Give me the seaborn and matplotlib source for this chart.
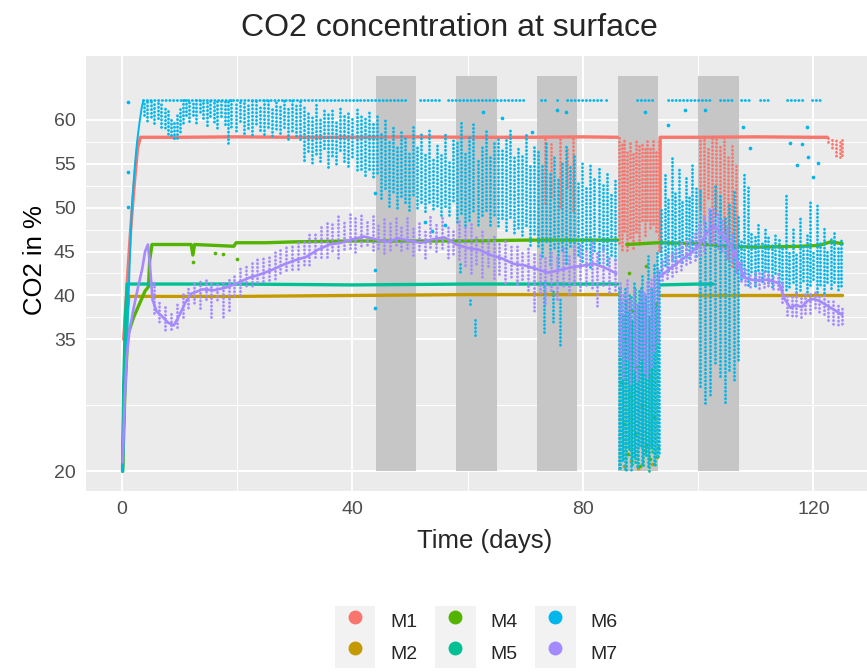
import numpy as np
import pandas as pd
import matplotlib
matplotlib.use("Agg")
import matplotlib.pyplot as plt
import seaborn as sns
from matplotlib.patches import Patch
from matplotlib.lines import Line2D
from matplotlib.legend_handler import HandlerTuple

nan = float("nan")

series = ["M1", "M2", "M4", "M5", "M6", "M7"]
colours = ["#F8766D", "#C49A00", "#53B400", "#00C094", "#00B6EB", "#A58AFF"]

# shaded periods (days)
shade_start = [44, 58, 72, 86, 100]
shade_end = [51, 65, 79, 93, 107]
shade_low, shade_high = 20, 65

# dense line-like part of each logger, nan = gap
m1_trace_t = [0.3, 0.9, 1.5, 2.1, 2.7, 3.2, 10, 20, 30, 40, 50, 60, 70, 80, 86.0, nan,
              93.4, 93.4, 100, 110, 120, 122.4]
m1_trace_y = [35.0, 41.5, 47.5, 52.5, 56.8, 58.0, 58.0, 58.05, 58.0, 58.0, 58.05, 58.0, 58.0, 58.05, 58.0, nan,
              45.0, 58.0, 58.0, 58.05, 58.0, 58.0]
m2_trace_t = [0.1, 0.4, 0.8, 1.2, 10, 20, 40, 60, 86, nan, 93.4, 110, 125]
m2_trace_y = [20.5, 30, 37.5, 39.9, 39.9, 39.9, 40.0, 40.1, 40.1, nan, 40.0, 40.0, 40.0]
m4_trace_t = [0.1, 0.5, 1.0, 2.0, 3.0, 4.0, 4.6, 4.8, 5.2, 8, 12.0, 12.3, 12.6, 16, 19.4, 19.8, 25, 30, 40,
              50, 60, 70, 80, 86.0, nan, 87.6, 93, 100, 105, 110, 118, 121, 123, 125]
m4_trace_y = [20, 29, 35.5, 37.5, 39, 40.5, 41, 44, 45.8, 45.8, 45.8, 44.6, 45.8, 45.7, 45.6, 46.0, 46.0, 46.1, 46.2,
              46.2, 46.2, 46.3, 46.3, 46.3, nan, 45.8, 46.0, 45.9, 45.6, 45.5, 45.6, 45.7, 46.1, 45.9]
m5_trace_t = [0.1, 0.3, 0.6, 0.9, 10, 20, 40, 60, 80, 86, nan, 93.4, 100, 102.6]
m5_trace_y = [20, 30, 37.5, 41.3, 41.3, 41.3, 41.2, 41.3, 41.3, 41.3, nan, 41.2, 41.3, 41.3]
m6_trace_t = [0.1, 0.5, 0.9, 1.3, 1.7, 2.2, 2.6, 3.0, 3.4, 3.7]
m6_trace_y = [20, 28, 35, 43, 50, 54.5, 57.4, 59.5, 61.3, 62.2]
m7_trace_t = [0.1, 0.4, 0.8, 1.3, 2.0, 2.8, 3.5, 4.0, 4.5, 4.9, 5.3, 6.0, 7.0, 8.0, 9.0, 10.0, 11.0, 12.0,
              14.0, 16.0, 18.0, 20.0, 22.0, 24.0, 26.0, 28.0, 30.0, 32.0, 34.0, 36.0, 38.0, 40.0, 42.0, 44.0,
              46.0, 48.0, 50.0, 52.0, 54.0, 56.0, 58.0, 60.0, 62.0, 64.0, 66.0, 68.0, 70.0, 72.0, 74.0, 76.0,
              78.0, 80.0, 82.0, 84.0, 85.8, nan, 93.5, 95, 97, 99, 100.5, 102, 103, 104, 105, 106, 107, 108,
              110, 112, 114, 115, 116, 117, 118, 119, 120, 121, 122, 123, 124, 125]
m7_trace_y = [21, 27, 33, 36, 38.5, 41, 43, 45, 45.8, 43, 39.5, 38.2, 37.6, 36.9, 36.6, 37.8, 39.2, 40.2,
              40.7, 40.6, 40.9, 41.4, 42.0, 42.4, 42.9, 43.5, 44.0, 44.4, 45.2, 45.8, 46.0, 46.4, 46.7, 46.4,
              46.1, 46.5, 46.2, 46.0, 46.4, 46.6, 45.8, 45.4, 45.2, 44.6, 44.2, 43.6, 43.4, 43.0, 42.6, 42.9,
              43.2, 43.4, 43.6, 43.1, 42.5, nan, 42.2, 43.0, 44.0, 45.0, 46.0, 47.6, 47.8, 47.0, 46.2, 45.2, 43.6, 42.0,
              41.7, 41.8, 41.4, 39.6, 38.6, 38.9, 38.7, 39.4, 39.6, 39.4, 39.0, 38.6, 38.2, 37.8]
trace_width = [2.4, 2.4, 2.4, 2.4, 1.4, 1.9]

# daily spread of readings: (day, lowest, highest)
m1_spans = [(73.4, 50.5, 58.0), (74.5, 51.0, 57.2), (76.0, 50.0, 58.0), (77.2, 52.0, 57.0), (78.3, 49.5, 58.0),
            (86.2, 46.0, 58.0), (86.7, 45.0, 57.4), (87.2, 47.2, 57.8), (87.7, 44.8, 56.6), (88.2, 46.4, 57.6),
            (88.7, 45.4, 56.2), (89.2, 47.0, 57.8), (89.7, 45.8, 57.0), (90.2, 48.2, 57.4), (90.7, 46.6, 56.8),
            (91.2, 48.6, 57.6), (91.7, 47.4, 57.0), (92.2, 48.0, 57.8), (92.7, 47.0, 56.4), (93.2, 45.0, 57.6),
            (100.3, 50.0, 58.0), (101.0, 48.0, 58.0), (101.7, 51.0, 57.0), (102.4, 46.0, 58.0), (103.1, 49.0, 58.0),
            (103.8, 45.0, 57.0), (104.5, 47.0, 58.0), (105.2, 44.0, 56.0), (105.9, 43.0, 57.0), (106.6, 42.5, 55.0),
            (122.5, 57.5, 58.0), (123.2, 56.5, 58.0), (123.9, 55.8, 58.0), (124.6, 55.4, 57.5), (125.0, 55.8, 58.0)]
m5_spans = [(86.5, 20.4, 41.0), (87.0, 21.2, 38.0), (87.5, 20.0, 39.6), (88.0, 22.2, 40.4), (88.5, 20.6, 37.4),
            (89.0, 21.0, 40.8), (89.5, 20.2, 38.6), (90.0, 22.8, 41.0), (90.5, 20.4, 39.2), (91.0, 21.6, 40.2),
            (91.5, 20.0, 37.8), (92.0, 22.0, 40.6), (92.5, 20.6, 39.0), (93.0, 21.4, 41.2)]
m6_spans = [(3.8, 60.5, 62.2), (4.4, 59.6, 62.2), (5.0, 60.2, 62.2), (5.6, 59.3, 62.0), (6.2, 60.0, 62.2),
            (6.8, 59.2, 61.8), (7.4, 58.8, 61.5), (8.0, 58.3, 61.0), (8.5, 57.9, 60.2), (9.0, 57.7, 59.8),
            (9.5, 57.9, 60.5), (10.0, 58.4, 61.2), (10.5, 59.5, 62.2), (11.1, 60.2, 62.2), (11.7, 59.6, 62.2),
            (12.3, 60.5, 62.2), (12.9, 59.4, 62.2), (13.5, 60.8, 62.2), (14.1, 59.8, 62.2), (14.7, 59.2, 62.2),
            (15.3, 60.4, 62.2), (15.9, 59.5, 62.2), (16.5, 59.0, 62.2), (17.1, 60.1, 62.2), (17.8, 59.3, 62.2),
            (18.4, 57.4, 62.2), (19.0, 59.0, 62.2), (19.7, 58.6, 61.8), (20.4, 59.5, 62.2), (21.1, 58.3, 62.2),
            (21.8, 59.1, 61.9), (22.5, 58.0, 62.2), (23.2, 59.4, 62.2), (23.9, 58.5, 61.6), (24.6, 58.2, 62.2),
            (25.3, 59.2, 62.2), (26.0, 57.9, 61.5), (26.7, 58.8, 62.2), (27.4, 58.1, 61.8), (28.1, 59.0, 62.2),
            (28.8, 57.8, 61.4), (29.5, 58.5, 62.2), (30.2, 58.0, 61.7), (30.9, 57.5, 62.2), (31.6, 55.2, 61.5),
            (32.3, 56.4, 61.0), (33.0, 54.8, 60.6), (33.7, 56.0, 61.8), (34.4, 55.0, 60.2), (35.1, 56.5, 61.2),
            (35.8, 54.6, 60.8), (36.5, 55.6, 61.5), (37.2, 54.9, 60.0), (37.9, 56.2, 61.3), (38.6, 55.1, 60.5),
            (39.3, 54.7, 61.0), (40.0, 55.5, 60.4), (40.7, 54.2, 61.2), (41.4, 54.0, 60.8), (42.1, 53.5, 60.2),
            (42.8, 54.4, 61.0), (43.5, 53.2, 59.8), (44.2, 53.8, 60.5), (44.9, 50.8, 58.5), (45.6, 52.0, 60.0),
            (46.3, 50.2, 57.6), (47.0, 51.5, 59.2), (47.7, 49.8, 57.0), (48.4, 51.0, 58.8), (49.1, 50.4, 58.0),
            (49.8, 49.7, 56.5), (50.5, 51.2, 59.5), (51.2, 49.8, 57.0), (51.9, 50.3, 58.4), (52.6, 49.4, 56.2),
            (53.3, 50.6, 59.2), (54.0, 49.6, 55.8), (54.7, 50.1, 57.5), (55.4, 48.8, 56.0), (56.1, 49.9, 58.6),
            (56.8, 49.2, 55.4), (57.5, 50.5, 57.8), (58.2, 48.2, 57.6), (58.9, 49.0, 60.0), (59.6, 47.8, 56.4),
            (60.3, 48.6, 58.2), (61.0, 49.4, 59.5), (61.7, 47.9, 55.6), (62.4, 48.8, 57.2), (63.1, 49.5, 58.8),
            (63.8, 48.0, 56.0), (64.5, 48.9, 57.4), (65.2, 47.8, 58.2), (65.9, 48.5, 56.8), (66.6, 47.2, 57.8),
            (67.3, 48.9, 59.2), (68.0, 46.9, 55.8), (68.7, 47.6, 57.0), (69.4, 46.5, 56.2), (70.1, 47.8, 58.5),
            (70.8, 45.8, 55.0), (71.5, 46.8, 57.2), (72.2, 45.5, 56.4), (72.9, 44.2, 55.0), (73.6, 46.0, 57.4),
            (74.3, 43.6, 54.2), (75.0, 45.2, 56.0), (75.7, 42.8, 53.6), (76.4, 44.8, 55.2), (77.1, 43.5, 57.0),
            (77.8, 45.6, 54.8), (78.5, 44.0, 56.2), (79.2, 44.5, 53.0), (79.9, 43.6, 55.4), (80.6, 45.2, 52.4),
            (81.3, 43.2, 55.0), (82.0, 44.8, 53.6), (82.7, 43.6, 54.6), (83.4, 45.0, 52.8), (84.1, 43.4, 54.0),
            (84.8, 44.6, 51.6), (85.5, 43.8, 53.2),
            (58.7, 42.6, 43.7), (60.4, 38.7, 39.5), (61.3, 35.3, 37.5), (73.2, 35.8, 41.5), (74.8, 36.8, 40.8),
            (76.0, 34.2, 39.6),
            (86.3, 20.0, 41.0), (86.8, 21.0, 39.5), (87.3, 20.2, 40.8), (87.8, 22.5, 38.6), (88.3, 20.0, 40.2),
            (88.8, 21.4, 41.5), (89.3, 20.4, 39.0), (89.8, 23.0, 40.6), (90.3, 20.6, 42.4), (90.8, 21.8, 40.0),
            (91.3, 20.2, 44.5), (91.8, 22.6, 41.2), (92.3, 20.8, 43.6), (92.8, 21.5, 45.2), (93.2, 22.0, 42.8),
            (93.6, 42.6, 50.0), (94.2, 43.2, 54.0), (94.8, 42.8, 51.2), (95.4, 43.8, 55.8), (96.0, 43.4, 52.0),
            (96.6, 44.2, 54.6), (97.2, 43.6, 50.8), (97.8, 44.4, 53.4), (98.4, 44.0, 51.6), (99.0, 44.8, 55.0),
            (99.6, 44.2, 52.2), (100.3, 29.5, 52.0), (101.2, 27.8, 48.5), (102.1, 28.4, 50.0),
            (102.9, 32.2, 52.4), (103.8, 30.5, 51.5), (104.6, 27.7, 49.2), (105.4, 31.5, 50.6),
            (106.2, 30.2, 52.0), (106.9, 32.5, 49.0), (107.4, 41.5, 46.5), (108.0, 42.0, 54.0),
            (108.6, 41.2, 52.5), (109.2, 42.4, 47.2), (109.8, 41.0, 46.8), (110.4, 42.6, 48.4), (111.0, 41.4, 46.2),
            (111.6, 42.8, 47.8), (112.2, 41.2, 46.6), (112.8, 40.8, 45.8), (113.4, 42.2, 47.0), (114.0, 41.0, 46.4),
            (114.6, 40.6, 45.6), (115.2, 40.4, 51.5), (115.8, 40.8, 45.2), (116.4, 41.2, 47.6), (117.0, 40.2, 44.8),
            (117.6, 40.6, 49.0), (118.2, 41.4, 45.6), (118.8, 40.3, 47.2), (119.4, 40.8, 51.0), (120.0, 41.6, 45.0),
            (120.6, 40.4, 50.4), (121.2, 41.0, 46.2), (121.8, 40.2, 47.8), (122.4, 41.2, 45.2), (123.0, 40.6, 46.8),
            (123.6, 41.5, 47.4), (124.2, 40.4, 45.6), (124.8, 41.0, 46.4)]
m7_spans = [(5.5, 38.0, 41.5), (6.5, 36.8, 39.5), (7.5, 36.0, 38.8), (8.5, 35.8, 38.0), (9.5, 36.2, 39.0),
            (10.5, 37.6, 40.2), (11.5, 38.4, 41.0), (12.5, 39.0, 41.6), (13.5, 38.2, 41.6), (14.5, 39.4, 41.8),
            (15.5, 37.6, 41.5), (16.5, 39.2, 41.4), (17.5, 37.4, 41.8), (18.5, 38.0, 42.0), (19.5, 39.8, 42.4),
            (20.5, 40.0, 43.2), (21.5, 40.8, 43.6), (22.5, 41.0, 43.8), (23.5, 41.2, 44.2), (24.5, 41.4, 44.4),
            (25.5, 41.8, 44.6), (26.5, 41.6, 45.2), (27.5, 42.4, 45.4), (28.5, 42.6, 45.8), (29.5, 42.8, 46.0),
            (30.5, 43.0, 46.4), (31.5, 43.2, 46.2), (32.5, 43.4, 47.0), (33.5, 44.0, 47.2), (34.5, 44.2, 47.8),
            (35.5, 44.4, 48.4), (36.5, 44.8, 48.2), (37.5, 44.2, 49.0), (38.5, 45.0, 48.6), (39.5, 45.2, 49.4),
            (40.5, 45.0, 48.8), (41.5, 45.4, 49.2), (42.5, 45.6, 48.6), (43.5, 44.8, 49.4), (44.5, 45.2, 48.4),
            (45.5, 44.8, 49.0), (46.5, 45.0, 48.2), (47.5, 45.6, 49.2), (48.5, 44.8, 48.0), (49.5, 45.2, 48.8),
            (50.5, 44.6, 47.8), (51.5, 45.0, 48.6), (52.5, 44.2, 47.6), (53.5, 45.2, 49.0), (54.5, 44.8, 48.4),
            (55.5, 45.4, 49.2), (56.5, 44.0, 48.0), (57.5, 44.6, 47.4), (58.5, 43.8, 48.6), (59.5, 43.2, 47.8),
            (60.5, 42.6, 48.2), (61.5, 43.4, 47.0), (62.5, 42.0, 47.6), (63.5, 43.0, 46.6), (64.5, 41.8, 46.8),
            (65.5, 42.4, 46.0), (66.5, 41.2, 46.2), (67.5, 42.0, 45.6), (68.5, 41.0, 45.8), (69.5, 41.6, 45.2),
            (70.5, 40.6, 45.4), (71.5, 38.0, 44.8), (72.5, 40.2, 45.0), (73.5, 38.8, 44.4), (74.5, 40.4, 45.2),
            (75.5, 39.6, 44.6), (76.5, 40.8, 45.4), (77.5, 40.0, 44.8), (78.5, 41.0, 45.6), (79.5, 40.4, 46.0),
            (80.5, 41.2, 45.4), (81.5, 40.6, 46.2), (82.5, 38.7, 45.0), (83.5, 40.8, 45.6), (84.5, 40.2, 44.6),
            (85.5, 40.6, 44.2),
            (86.4, 33.0, 41.5), (87.0, 30.5, 40.2), (87.6, 32.4, 41.8), (88.2, 29.8, 39.6), (88.8, 31.6, 40.8),
            (89.4, 30.2, 39.2), (90.0, 32.8, 41.0), (90.6, 31.0, 40.4), (91.2, 30.6, 41.6), (91.8, 32.0, 42.2),
            (92.4, 33.4, 42.6), (93.0, 34.6, 43.0),
            (93.8, 41.4, 44.2), (94.6, 41.8, 44.6), (95.4, 42.2, 45.2), (96.2, 42.4, 45.6), (97.0, 42.8, 46.0),
            (97.8, 43.2, 46.4), (98.6, 43.6, 46.8), (99.4, 44.0, 47.2), (100.2, 44.4, 48.2), (101.0, 45.0, 49.0),
            (101.8, 45.6, 49.8), (102.6, 45.8, 50.2), (103.4, 45.4, 49.6), (104.2, 44.8, 48.8), (105.0, 44.2, 48.0),
            (105.8, 43.6, 47.2), (106.6, 42.4, 46.0), (107.4, 41.6, 44.2), (108.2, 41.0, 43.0), (109.0, 40.8, 42.6),
            (109.8, 41.0, 42.8), (110.6, 40.6, 42.6), (111.4, 41.0, 42.9), (112.2, 40.8, 42.8), (113.0, 40.6, 42.4),
            (113.8, 40.4, 42.6), (114.6, 39.0, 41.8), (115.4, 37.8, 40.2), (116.2, 37.4, 40.0), (117.0, 37.6, 40.3),
            (117.8, 37.2, 40.0), (118.6, 37.8, 40.2), (119.4, 38.0, 40.3), (120.2, 38.4, 40.4), (121.0, 38.0, 40.2),
            (121.8, 37.6, 40.0), (122.6, 37.0, 39.6), (123.4, 36.8, 39.4), (124.2, 36.4, 39.0), (125.0, 36.6, 38.6)]

# M6 sensor ceiling (62.2 %): runs of days where it sat at the cap
m6_cap = [(3.7, 41.0), (41.3, 49.4), (51.7, 55.2), (56.6, 70.2), (72.8, 73.6), (75.5, 76.0), (77.3, 83.1),
          (84.0, 84.4), (89.4, 92.2), (94.8, 102.3), (103.8, 106.4), (107.5, 109.0), (110.8, 112.4),
          (115.5, 118.3), (119.7, 121.2)]
m6_cap_level = 62.2

# single scattered readings
m2_dots = [(87.2, 20.6), (88.4, 21.2), (89.6, 20.4), (90.8, 22.4), (91.9, 20.8), (92.8, 21.6)]
m4_dots = [(12.3, 43.8), (16.1, 44.8), (17.5, 44.7), (20.0, 44.2), (86.6, 30.2), (87.1, 25.4), (87.4, 35.0),
           (87.9, 22.0), (88.3, 28.6), (88.6, 38.2), (89.1, 24.2), (89.4, 32.0), (89.9, 20.6), (90.2, 27.4),
           (90.5, 36.4), (90.9, 23.0), (91.3, 30.8), (91.6, 21.4), (92.0, 34.2), (92.4, 26.2), (92.7, 39.0),
           (93.1, 22.6), (88.0, 42.6), (91.0, 43.4)]
m6_dots = [(1.0, 62.0), (1.0, 54.0), (1.0, 50.1), (43.9, 51.7), (43.9, 42.9), (43.9, 38.6), (52.5, 48.4),
           (53.8, 47.3), (56.0, 48.0), (62.7, 60.9), (66.0, 60.2), (71.2, 58.6), (75.5, 61.1), (77.0, 60.9),
           (90.8, 60.9), (97.7, 61.1), (101.2, 61.1), (94.8, 59.4), (107.8, 59.2), (118.9, 59.2), (109.0, 56.8),
           (116.0, 57.4), (118.0, 57.2), (119.0, 55.8), (117.2, 54.9), (120.0, 53.5), (120.8, 55.1)]

y_breaks = [20, 35, 40, 45, 50, 55, 60]
y_minor = [27.5, 37.5, 42.5, 47.5, 52.5, 57.5]
x_breaks = [0, 40, 80, 120]
x_minor = [20, 60, 100]

traces = {"M1": (m1_trace_t, m1_trace_y), "M2": (m2_trace_t, m2_trace_y), "M4": (m4_trace_t, m4_trace_y),
          "M5": (m5_trace_t, m5_trace_y), "M6": (m6_trace_t, m6_trace_y), "M7": (m7_trace_t, m7_trace_y)}
spans = {"M1": m1_spans, "M5": m5_spans, "M6": m6_spans, "M7": m7_spans}
dots = {"M2": m2_dots, "M4": m4_dots, "M6": m6_dots}

sns.set_theme(style="darkgrid")
plt.rcParams["font.family"] = ["Liberation Sans", "DejaVu Sans"]
plt.rcParams["axes.facecolor"] = "#EBEBEB"

fig = plt.figure(figsize=(8.67, 6.72), dpi=100)
ax = fig.add_axes([86 / 867, 1 - 491 / 672, 781 / 867, 435 / 672])
ax.set_xlim(-6.25, 129.3)
ax.set_ylim(17.75, 67.25)

# grid like ggplot
ax.set_xticks(x_breaks)
ax.set_yticks(y_breaks)
ax.set_xticks(x_minor, minor=True)
ax.set_yticks(y_minor, minor=True)
ax.grid(which="major", color="white", linewidth=1.4)
ax.grid(which="minor", color="white", linewidth=0.7)
ax.set_axisbelow(True)
for s in ax.spines.values():
    s.set_visible(False)
ax.tick_params(axis="both", which="major", length=4.5, width=1.0, color="#333333",
               labelsize=14, labelcolor="#4D4D4D", pad=3)
ax.tick_params(axis="both", which="minor", length=0)

for a, b in zip(shade_start, shade_end):
    ax.fill_between([a, b], shade_low, shade_high, color="#C6C6C6", linewidth=0, zorder=1)

# dotted strokes, offsets varied so the dots do not line up in rows
dot_styles = [(0, (0.1, 1.25)), (0.5, (0.1, 1.25)), (0.9, (0.1, 1.25)), (0.3, (0.1, 1.25)), (0.7, (0.1, 1.25))]
for name, col, lw in zip(series, colours, trace_width):
    t, y = traces[name]
    seg, k = [], 0
    for v in t:
        if np.isnan(v):
            k += 1
        seg.append(k)
    df = pd.DataFrame({"t": t, "y": y, "seg": seg}).dropna()
    sns.lineplot(data=df, x="t", y="y", units="seg", estimator=None, sort=False,
                 color=col, linewidth=lw, ax=ax, zorder=2, legend=False)
    if name == "M6":
        cap = np.array(m6_cap)
        ax.hlines([m6_cap_level] * len(cap), cap[:, 0], cap[:, 1], colors=col, linewidth=2.0,
                  linestyles=[dot_styles[0]], capstyle="round", zorder=2)
    if name in spans:
        sp = np.array(spans[name])
        ax.vlines(sp[:, 0], sp[:, 1], sp[:, 2], colors=col, linewidth=2.0,
                  linestyles=dot_styles, capstyle="round", zorder=2)
    if name in dots:
        dd = np.array(dots[name])
        sns.scatterplot(x=dd[:, 0], y=dd[:, 1], color=col, s=7, linewidth=0, ax=ax, zorder=2, legend=False)

ax.set_xlabel("")
ax.set_ylabel("CO2 in %", fontsize=18.5, color="black")
ax.yaxis.set_label_coords(-0.05, 0.53)
fig.text(485 / 867, 1 - 541 / 672, "Time (days)", fontsize=18.5, ha="center", va="center")
fig.text(449 / 867, 1 - 28 / 672, "CO2 concentration at surface", fontsize=23, ha="center", va="center")

handles = [(Patch(facecolor="#F2F2F2", edgecolor="none"),
            Line2D([], [], marker="o", linestyle="", markersize=9, color=c)) for c in colours]
fig.legend(handles, series, handler_map={tuple: HandlerTuple(ndivide=1)}, ncol=3,
           loc="center", bbox_to_anchor=(476 / 867, 1 - 637 / 672), frameon=False, fontsize=14,
           handlelength=2.1, handleheight=2.1, handletextpad=0.75, columnspacing=0.9, labelspacing=0.0,
           borderpad=0)

fig.savefig("out.png", dpi=100)
